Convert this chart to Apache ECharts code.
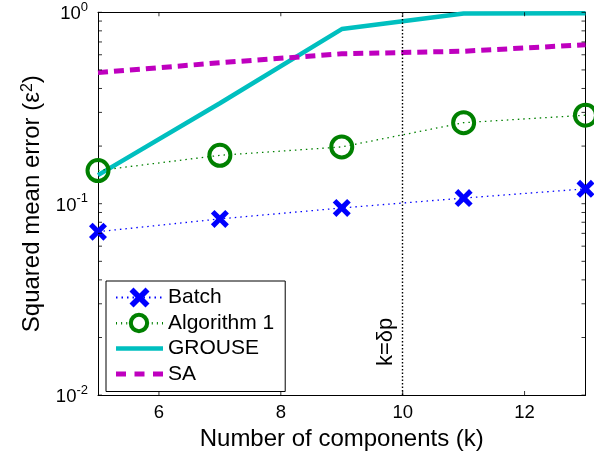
<!DOCTYPE html>
<html>
<head>
<meta charset="utf-8">
<script src="https://cdn.jsdelivr.net/npm/echarts@6/dist/echarts.min.js"></script>
<style>
  html, body { margin: 0; padding: 0; background: #fff; }
  #main { width: 594px; height: 456px; }
</style>
</head>
<body>
<div id="main"></div>
<script>
// chart values
const components = [5, 7, 9, 11, 13];
const batch = [0.0714, 0.0833, 0.095, 0.107, 0.1196];
const algorithm1 = [0.149, 0.179, 0.198, 0.265, 0.29];
const grouse = [0.141, 0.335, 0.817, 0.985, 0.99];
const sa = [0.484, 0.545, 0.607, 0.626, 0.677];

const xTicks = [6, 8, 10, 12];
const yMajorTicks = [0.01, 0.1, 1];
const yMinorTicks = [0.02, 0.03, 0.04, 0.05, 0.06, 0.07, 0.08, 0.09,
                     0.2, 0.3, 0.4, 0.5, 0.6, 0.7, 0.8, 0.9];
const markerK = 10;

const X_MIN = 5, X_MAX = 13, Y_MIN = 0.01, Y_MAX = 1;
const font = "'Liberation Sans', Arial, sans-serif";
const xShape = 'path://M0,2 L2,0 L5,3 L8,0 L10,2 L7,5 L10,8 L8,10 L5,7 L2,10 L0,8 L3,5 Z';
// legend icon for Algorithm 1: thick ring with a few dots either side
const ringIcon = 'path://M13.5,12.5a10,10 0 1,0 20,0a10,10 0 1,0 -20,0z' +
  'M17.5,12.5a6,6 0 1,1 12,0a6,6 0 1,1 -12,0z' +
  'M1,11.5h1v2.5h-1z M6,11.5h1v2.5h-1z M11,11.5h1v2.5h-1z' +
  'M36,11.5h1v2.5h-1z M41,11.5h1v2.5h-1z M46,11.5h1v2.5h-1z';

function pairs(ys) {
  return components.map((x, i) => [x, ys[i]]);
}

function expLabel(v) {
  const e = Math.round(Math.log10(v));
  return '{b|10}{s|' + e + '}';
}

// MATLAB style inside ticks, drawn as thin rect symbols sitting on the box edge
function tickSeries(points, w, h, offset) {
  return {
    type: 'scatter',
    silent: true,
    clip: false,
    z: 5,
    symbol: 'rect',
    symbolSize: [w, h],
    symbolOffset: offset,
    itemStyle: { color: '#000' },
    data: points
  };
}

let chartDom = document.getElementById('main');
let myChart = echarts.init(chartDom);
let option;

option = {
  animation: false,
  textStyle: { fontFamily: font },
  grid: { left: 98, right: 8.5, top: 12.3, bottom: 57, containLabel: false },
  legend: {
    orient: 'vertical',
    left: 106,
    top: 281,
    padding: [4, 11, 5, 9],
    itemWidth: 47,
    itemHeight: 25,
    itemGap: 0.5,
    borderColor: '#000',
    borderWidth: 1,
    backgroundColor: '#fff',
    textStyle: { fontFamily: font, fontSize: 21, lineHeight: 25, color: '#000' },
    data: [
      { name: 'Batch' },
      { name: 'Algorithm 1', icon: ringIcon, itemStyle: { color: '#008000', borderWidth: 0 } },
      { name: 'GROUSE', icon: 'path://M0,0h47v4.5h-47z' },
      { name: 'SA', icon: 'path://M0,0h10v5h-10z M18.5,0h10v5h-10z M37,0h10v5h-10z' }
    ]
  },
  xAxis: [
    {
      type: 'value',
      min: X_MIN,
      max: X_MAX,
      position: 'bottom',
      name: 'Number of components (k)',
      nameLocation: 'middle',
      nameGap: 27,
      nameTextStyle: { fontFamily: font, fontSize: 24, color: '#000' },
      axisLine: { lineStyle: { color: '#000', width: 1 } },
      axisTick: { show: false },
      axisLabel: { customValues: xTicks, margin: 8, fontSize: 18.5, color: '#000', fontFamily: font },
      splitLine: { show: false }
    },
    {
      type: 'value',
      min: X_MIN,
      max: X_MAX,
      position: 'top',
      axisLine: { lineStyle: { color: '#000', width: 1 } },
      axisTick: { show: false },
      axisLabel: { show: false },
      splitLine: { show: false }
    }
  ],
  yAxis: [
    {
      type: 'log',
      logBase: 10,
      min: Y_MIN,
      max: Y_MAX,
      position: 'left',
      name: '{t|Squared mean error (ε}{s|2}{t|)}',
      nameLocation: 'middle',
      nameGap: 54,
      nameTextStyle: {
        fontFamily: font,
        rich: {
          t: { fontSize: 24, color: '#000', fontFamily: font },
          s: { fontSize: 16, color: '#000', fontFamily: font, verticalAlign: 'top' }
        }
      },
      axisLine: { lineStyle: { color: '#000', width: 1 } },
      axisTick: { show: false },
      axisLabel: {
        customValues: yMajorTicks,
        margin: 10,
        formatter: expLabel,
        rich: {
          b: { fontSize: 18.5, color: '#000', fontFamily: font, padding: [4, 0, 0, 0] },
          s: { fontSize: 13, color: '#000', fontFamily: font, verticalAlign: 'top', padding: [0, 0, 6, 0] }
        }
      },
      splitLine: { show: false }
    },
    {
      type: 'log',
      logBase: 10,
      min: Y_MIN,
      max: Y_MAX,
      position: 'right',
      axisLine: { show: true, lineStyle: { color: '#000', width: 1 } },
      axisTick: { show: false },
      axisLabel: { show: false },
      splitLine: { show: false }
    }
  ],
  series: [
    tickSeries(yMajorTicks.concat(yMinorTicks).map(v => [X_MIN, v]), 4, 1, [2, 0]),
    tickSeries(yMajorTicks.concat(yMinorTicks).map(v => [X_MAX, v]), 4, 1, [-2, 0]),
    tickSeries(xTicks.map(t => [t, Y_MIN]), 1, 4, [0, -2]),
    tickSeries(xTicks.map(t => [t, Y_MAX]), 1, 4, [0, 2]),
    {
      name: 'GROUSE',
      type: 'line',
      data: pairs(grouse),
      symbol: 'none',
      z: 3,
      lineStyle: { color: '#00BFBF', width: 4.5 },
      itemStyle: { color: '#00BFBF' },
      markLine: {
        silent: true,
        symbol: 'none',
        lineStyle: { color: '#000', type: [1.5, 2], width: 1.4 },
        label: {
          show: true,
          formatter: 'k=δp',
          position: 'insideStartTop',
          distance: [29, 6],
          fontFamily: font,
          fontSize: 22,
          color: '#000'
        },
        data: [{ xAxis: markerK }]
      }
    },
    {
      name: 'SA',
      type: 'line',
      data: pairs(sa),
      symbol: 'none',
      z: 3,
      lineStyle: { color: '#BF00BF', width: 5, type: [10, 6] },
      itemStyle: { color: '#BF00BF' }
    },
    {
      name: 'Algorithm 1',
      type: 'line',
      data: pairs(algorithm1),
      symbol: 'circle',
      symbolSize: 21,
      z: 4,
      lineStyle: { color: '#008000', width: 1.3, type: [1.5, 4] },
      itemStyle: { color: 'rgba(0,0,0,0)', borderColor: '#008000', borderWidth: 4 }
    },
    {
      name: 'Batch',
      type: 'line',
      data: pairs(batch),
      symbol: xShape,
      symbolSize: 18,
      z: 4,
      lineStyle: { color: '#0000FF', width: 1.3, type: [1.5, 4] },
      itemStyle: { color: '#0000FF' }
    }
  ]
};

option && myChart.setOption(option);
</script>
</body>
</html>
